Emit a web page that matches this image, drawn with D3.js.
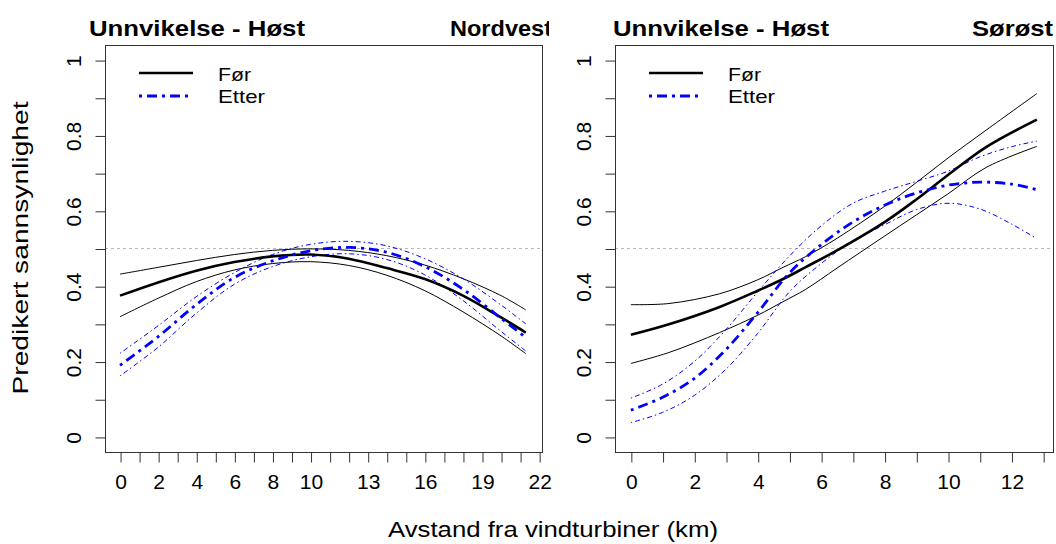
<!DOCTYPE html>
<html><head><meta charset="utf-8">
<script src="https://cdn.jsdelivr.net/npm/d3@7"></script>
<style>
body{margin:0;background:#fff;}
svg{display:block;background:#fff;}
text{font-family:"Liberation Sans",Arial,sans-serif;fill:#000;}
</style></head><body>
<svg id="c" width="1056" height="544"></svg>
<script>
// ---------- DATA ----------
const titleMain = "Unnvikelse - Høst";
const panelNames = ["Nordvest", "Sørøst"];
const legendLabels = ["Før", "Etter"];
const xLabel = "Avstand fra vindturbiner (km)";
const yLabel = "Predikert sannsynlighet";

const yTicks = [0,0.1,0.2,0.3,0.4,0.5,0.6,0.7,0.8,0.9,1];
const yTickLabels = [0,0.2,0.4,0.6,0.8,1];

// Left panel (Nordvest)
const leftXTicks = d3.range(0, 23);
const leftXTickLabels = [0,2,4,6,8,10,13,16,19,22];
const leftX        = [0,2,4,6,8,10,12,14,16,18,20,21.3];
const leftForEst   = [0.375,0.410,0.441,0.464,0.479,0.484,0.473,0.448,0.419,0.375,0.317,0.277];
const leftForUp    = [0.432,0.450,0.468,0.484,0.495,0.499,0.495,0.481,0.456,0.420,0.375,0.337];
const leftForLo    = [0.319,0.368,0.412,0.443,0.460,0.465,0.455,0.429,0.388,0.332,0.268,0.221];
const leftEtterEst = [0.190,0.266,0.351,0.423,0.467,0.494,0.503,0.490,0.452,0.392,0.315,0.264];
const leftEtterUp  = [0.222,0.295,0.372,0.436,0.484,0.511,0.519,0.507,0.473,0.420,0.350,0.300];
const leftEtterLo  = [0.162,0.238,0.328,0.405,0.452,0.478,0.486,0.471,0.430,0.362,0.280,0.228];

// Right panel (Sørøst)
const rightXTicks = d3.range(0, 14);
const rightXTickLabels = [0,2,4,6,8,10,12];
const rightFX       = [0,1.2,2.8,4.0,4.8,5.5,6.5,8.0,9.0,10.0,11.2,12.8];
const rightForEst   = [0.271,0.299,0.345,0.388,0.419,0.450,0.495,0.570,0.630,0.695,0.769,0.842];
const rightForUp    = [0.351,0.354,0.380,0.417,0.450,0.478,0.527,0.612,0.675,0.740,0.814,0.911];
const rightForLo    = [0.195,0.224,0.277,0.323,0.359,0.391,0.448,0.533,0.589,0.645,0.715,0.771];
const rightEX       = [0,1,2,3,4,5,6,7,8,9,10,11,12,12.8];
const rightEtterEst = [0.071,0.105,0.155,0.232,0.330,0.435,0.510,0.570,0.615,0.647,0.668,0.676,0.671,0.656];
const rightEtterUp  = [0.103,0.140,0.200,0.285,0.385,0.480,0.560,0.620,0.652,0.678,0.705,0.743,0.770,0.785];
const rightEtterLo  = [0.038,0.065,0.110,0.180,0.275,0.385,0.460,0.520,0.563,0.603,0.620,0.605,0.565,0.526];

// ---------- LAYOUT ----------
const svg = d3.select("#c");
const yTop = 45, yBottom = 452;
const yDomain = [-0.04, 1.04];

const panels = [
  {x0:105, x1:542, dom:[-0.79,22.15], xt:leftXTicks, xl:leftXTickLabels,
   series:[[leftX,leftForEst],[leftX,leftForUp],[leftX,leftForLo],
           [leftX,leftEtterEst],[leftX,leftEtterUp],[leftX,leftEtterLo]],
   titleX:89, nameX:450, nameLen:102, clip:549},
  {x0:615, x1:1053, dom:[-0.5,13.31], xt:rightXTicks, xl:rightXTickLabels,
   series:[[rightFX,rightForEst],[rightFX,rightForUp],[rightFX,rightForLo],
           [rightEX,rightEtterEst],[rightEX,rightEtterUp],[rightEX,rightEtterLo]],
   titleX:613, nameX:972, nameLen:81, clip:1056}
];

const defs = svg.append("defs");
const FONT = '"Liberation Sans",Arial,sans-serif';

panels.forEach((p, i) => {
  const x = d3.scaleLinear().domain(p.dom).range([p.x0, p.x1]);
  const y = d3.scaleLinear().domain(yDomain).range([yBottom, yTop]);
  const g = svg.append("g");

  // reference line at 0.5
  g.append("line")
    .attr("x1", p.x0).attr("x2", p.x1)
    .attr("y1", y(0.5)).attr("y2", y(0.5))
    .attr("stroke", "#b8b8b8").attr("stroke-width", 1)
    .attr("stroke-dasharray", "3,3");

  const styles = [
    {c:"#000", w:2.6, dash:null},
    {c:"#000", w:1, dash:null},
    {c:"#000", w:1, dash:null},
    {c:"#0000ff", w:2.8, dash:"3,5,10,5"},
    {c:"#0000ff", w:1, dash:"1.5,3,5,3"},
    {c:"#0000ff", w:1, dash:"1.5,3,5,3"}
  ];
  [1,2,4,5,0,3].forEach(k => {
    const s = styles[k];
    const [xs, ys] = p.series[k];
    const line = d3.line().x((d,j)=>x(xs[j])).y(d=>y(d)).curve(d3.curveCatmullRom.alpha(0.5));
    g.append("path").attr("d", line(ys))
      .attr("fill","none").attr("stroke", s.c).attr("stroke-width", s.w)
      .attr("stroke-dasharray", s.dash);
  });

  // box
  g.append("rect").attr("x", p.x0+0.5).attr("y", yTop+0.5)
    .attr("width", p.x1-p.x0).attr("height", yBottom-yTop)
    .attr("fill","none").attr("stroke","#333").attr("stroke-width",1);

  // x axis
  const xa = g.append("g").attr("transform", `translate(0.5,${yBottom+0.5})`)
    .call(d3.axisBottom(x).tickValues(p.xt).tickSize(10).tickSizeOuter(0)
      .tickFormat(d => p.xl.includes(d) ? String(d) : ""));
  xa.select(".domain").remove();
  xa.selectAll("line").attr("stroke","#333");
  xa.selectAll("text").attr("y", 36).attr("dy", null)
    .style("font-size","21px").style("font-family",FONT).attr("fill","#000");

  // y axis
  const ya = g.append("g").attr("transform", `translate(${p.x0+0.5},0.5)`)
    .call(d3.axisLeft(y).tickValues(yTicks).tickSize(10).tickSizeOuter(0)
      .tickFormat(d => yTickLabels.some(v => Math.abs(v-d) < 1e-9) ? d3.format("~g")(d) : ""));
  ya.select(".domain").remove();
  ya.selectAll("line").attr("stroke","#333");
  ya.selectAll("text").attr("x", null).attr("dy", null)
    .attr("transform","translate(-25,0) rotate(-90)")
    .attr("text-anchor","middle")
    .style("font-size","21px").style("font-family",FONT).attr("fill","#000");

  // titles
  svg.append("text").attr("x", p.titleX).attr("y", 36)
    .attr("textLength", 216).attr("lengthAdjust","spacingAndGlyphs")
    .style("font-size","22px").style("font-weight","bold").text(titleMain);

  defs.append("clipPath").attr("id","clip"+i).append("rect")
    .attr("x", 0).attr("y", 0).attr("width", p.clip).attr("height", 60);
  svg.append("text").attr("x", p.nameX).attr("y", 36)
    .attr("clip-path", `url(#clip${i})`)
    .attr("textLength", p.nameLen).attr("lengthAdjust","spacingAndGlyphs")
    .style("font-size","22px").style("font-weight","bold").text(panelNames[i]);

  // legend
  const lx = p.x0 + 34, lx2 = p.x0 + 88, tx = p.x0 + 113;
  g.append("line").attr("x1",lx).attr("x2",lx2).attr("y1",73).attr("y2",73)
    .attr("stroke","#000").attr("stroke-width",2.6);
  g.append("line").attr("x1",lx).attr("x2",lx2).attr("y1",96).attr("y2",96)
    .attr("stroke","#0000ff").attr("stroke-width",2.8).attr("stroke-dasharray","3,5,10,5");
  g.append("text").attr("x",tx).attr("y",81).attr("textLength",33).attr("lengthAdjust","spacingAndGlyphs")
    .style("font-size","19px").text(legendLabels[0]);
  g.append("text").attr("x",tx).attr("y",102.5).attr("textLength",47).attr("lengthAdjust","spacingAndGlyphs")
    .style("font-size","19px").text(legendLabels[1]);
});

// shared axis labels
svg.append("text").attr("x", 388).attr("y", 537)
  .attr("textLength", 330).attr("lengthAdjust","spacingAndGlyphs")
  .style("font-size","22px").text(xLabel);
svg.append("text").attr("transform","translate(28,248) rotate(-90)")
  .attr("text-anchor","middle")
  .attr("textLength", 293).attr("lengthAdjust","spacingAndGlyphs")
  .style("font-size","22px").text(yLabel);
</script>
</body></html>
